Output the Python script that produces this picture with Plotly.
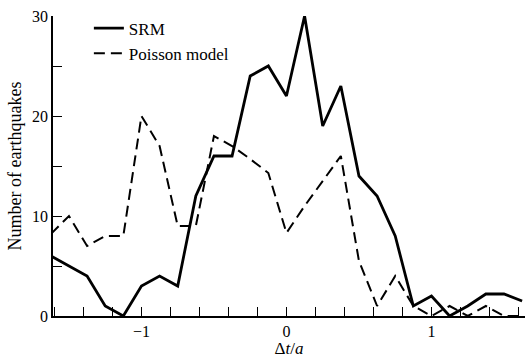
import plotly.graph_objects as go

# Δt/a bin centres
dt = [-1.625, -1.5, -1.375, -1.25, -1.125, -1.0, -0.875, -0.75, -0.625, -0.5,
      -0.375, -0.25, -0.125, 0.0, 0.125, 0.25, 0.375, 0.5, 0.625, 0.75,
      0.875, 1.0, 1.125, 1.25, 1.375, 1.5, 1.625]

srm = [6, 5, 4, 1, 0, 3, 4, 3, 12, 16,
       16, 24, 25, 22, 30, 19, 23, 14, 12, 8,
       1, 2, 0, 1, 2.2, 2.2, 1.5]

poisson = [8.2, 10, 7, 8, 8, 20, 17, 9, 9, 18,
           17, 15.7, 14.3, 8.3, 11, 13.5, 16, 5.5, 1, 4,
           1, 0, 1, 0, 1, 0, 0]

x_tick_labels = {-1: "\u22121", 0: "0", 1: "1"}
y_tick_vals = [0, 10, 20, 30]

FONT = "Liberation Serif, Times New Roman, serif"

fig = go.Figure()
fig.add_trace(go.Scatter(x=dt, y=srm, mode="lines", name="SRM",
                         line=dict(color="black", width=2.8)))
fig.add_trace(go.Scatter(x=dt, y=poisson, mode="lines", name="Poisson model",
                         line=dict(color="black", width=2, dash="11px,6px")))

fig.update_layout(
    width=525, height=358,
    margin=dict(l=53, r=0, t=16, b=42),
    paper_bgcolor="white", plot_bgcolor="white",
    font=dict(family=FONT, color="black", size=16),
    showlegend=True,
    legend=dict(x=0.076, y=1.018, xanchor="left", yanchor="top",
                bgcolor="rgba(0,0,0,0)", font=dict(size=17, family=FONT),
                tracegroupgap=0, itemwidth=30),
    xaxis=dict(
        range=[-1.61, 1.645],
        showline=True, linecolor="black", linewidth=1.5,
        showgrid=False, zeroline=False,
        tickmode="array",
        tickvals=list(x_tick_labels.keys()),
        ticktext=list(x_tick_labels.values()),
        ticks="inside", ticklen=9, tickwidth=1.3, tickcolor="black",
        minor=dict(ticks="inside", ticklen=9, tickwidth=1.3, tickcolor="black",
                   dtick=0.2, tick0=0, showgrid=False),
        tickfont=dict(size=16, family=FONT),
        title=dict(text="\u0394<i>t</i>/<i>a</i>", font=dict(size=17, family=FONT),
                   standoff=4),
    ),
    yaxis=dict(
        range=[0, 30],
        showline=True, linecolor="black", linewidth=1.5,
        showgrid=False, zeroline=False,
        tickmode="array", tickvals=y_tick_vals,
        ticks="inside", ticklen=9, tickwidth=1.3, tickcolor="black",
        minor=dict(ticks="inside", ticklen=9, tickwidth=1.3, tickcolor="black",
                   dtick=5, tick0=0, showgrid=False),
        tickfont=dict(size=16, family=FONT),
        title=dict(text="Number of earthquakes", font=dict(size=18, family=FONT),
                   standoff=6),
    ),
)

fig.write_html("out.html")
